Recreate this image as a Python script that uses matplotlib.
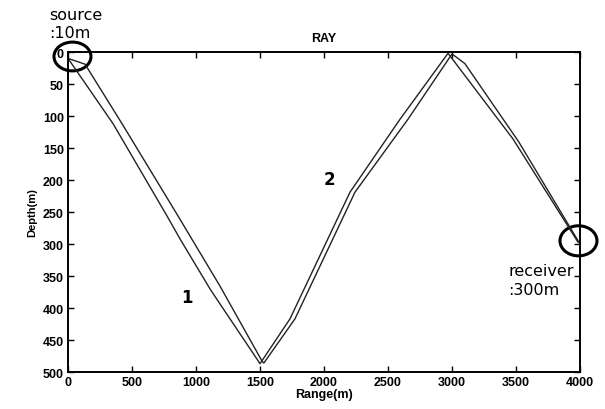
import matplotlib.pyplot as plt
from matplotlib.patches import Ellipse

# ray paths (range in m, depth in m)
ray1_range = [0, 352, 773, 875, 1109, 1172, 1477, 1500, 1734, 2203, 2594, 2969, 3477, 3984]
ray1_depth = [10, 112, 256, 292, 370, 389, 480, 487, 417, 219, 105, 2, 136, 297]

ray2_range = [0, 133, 422, 859, 1188, 1516, 1530, 1773, 2242, 2656, 3000, 3100, 3520, 4000]
ray2_depth = [10, 19, 112, 256, 366, 483, 486, 417, 219, 105, 3, 18, 140, 300]

x_ticks = [0, 500, 1000, 1500, 2000, 2500, 3000, 3500, 4000]
y_ticks = [0, 50, 100, 150, 200, 250, 300, 350, 400, 450, 500]

source_pos = (35, 7)
receiver_pos = (3988, 295)

plt.rcParams['font.family'] = ['DejaVu Sans']

fig = plt.figure(figsize=(6.05, 4.10), dpi=100)
ax = fig.add_axes([0.1124, 0.0902, 0.8463, 0.7805])

ax.plot(ray1_range, ray1_depth, color='#222222', lw=1.0)
ax.plot(ray2_range, ray2_depth, color='#222222', lw=1.0)

ax.set_xlim(0, 4000)
ax.set_ylim(500, 0)
ax.set_xticks(x_ticks)
ax.set_yticks(y_ticks)
ax.tick_params(direction='in', length=4, width=1, top=True, right=True,
               labelsize=9, pad=3)
for lab in ax.get_xticklabels() + ax.get_yticklabels():
    lab.set_fontfamily('Liberation Sans')
    lab.set_fontweight('bold')
for sp in ax.spines.values():
    sp.set_linewidth(1.4)

ax.set_title('RAY', fontsize=9, fontweight='bold', family='Liberation Sans', pad=8)
ax.set_xlabel('Range(m)', fontsize=9, fontweight='bold', family='Liberation Sans', labelpad=0)
ax.set_ylabel('Depth(m)', fontsize=8, fontweight='bold', family='Liberation Sans', labelpad=4)

# markers around source and receiver
ax.add_patch(Ellipse(source_pos, 289, 45, fill=False, lw=2.2, color='black', clip_on=False))
ax.add_patch(Ellipse(receiver_pos, 289, 47, fill=False, lw=2.2, color='black', clip_on=False))

ax.text(-150, -18, 'source\n:10m', fontsize=11.5, ha='left', va='bottom',
        linespacing=1.3, clip_on=False)
ax.text(3440, 330, 'receiver\n:300m', fontsize=11.5, ha='left', va='top',
        linespacing=1.3, clip_on=False)

ax.text(930, 383, '1', fontsize=12, fontweight='bold', ha='center', va='center')
ax.text(2045, 198, '2', fontsize=12, fontweight='bold', ha='center', va='center')

fig.savefig('out.png', dpi=100)
